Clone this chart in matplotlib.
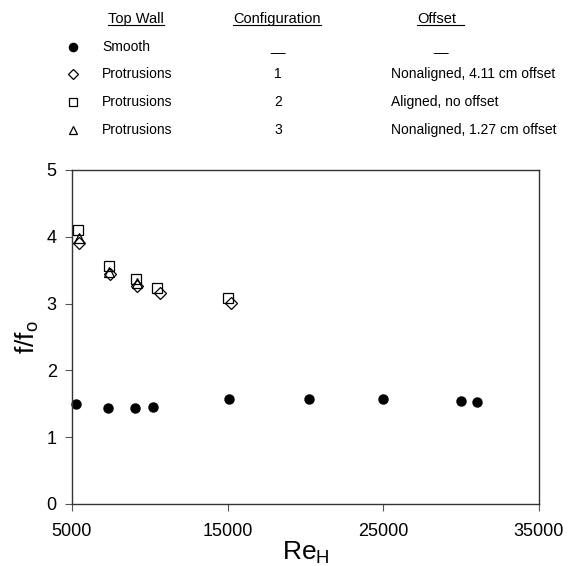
import matplotlib
matplotlib.use("Agg")
import matplotlib.pyplot as plt
from matplotlib.lines import Line2D

plt.rcParams['font.family'] = ['Liberation Sans', 'DejaVu Sans']

# Smooth top wall
re_smooth = [5250, 7300, 9050, 10200, 15100, 20200, 25000, 30000, 31000]
f_smooth = [1.50, 1.44, 1.43, 1.45, 1.57, 1.57, 1.57, 1.54, 1.53]

# Protrusions, configuration 1 (nonaligned, 4.11 cm offset)
re_conf1 = [5450, 7440, 9175, 10650, 15210]
f_conf1 = [3.91, 3.44, 3.26, 3.16, 3.01]

# Protrusions, configuration 2 (aligned, no offset)
re_conf2 = [5385, 7376, 9110, 10460, 15020]
f_conf2 = [4.10, 3.56, 3.37, 3.23, 3.08]

# Protrusions, configuration 3 (nonaligned, 1.27 cm offset)
re_conf3 = [5450, 7376, 9175]
f_conf3 = [3.98, 3.47, 3.31]

x_ticks = [5000, 15000, 25000, 35000]
y_ticks = [0, 1, 2, 3, 4, 5]

fig = plt.figure(figsize=(5.74, 5.66), dpi=100)
ax = fig.add_axes([72 / 574, 62 / 566, 467 / 574, 334 / 566])

open_style = dict(linestyle='none', markerfacecolor='none', markeredgecolor='black',
                  markeredgewidth=0.9, clip_on=False)
ax.plot(re_smooth, f_smooth, 'o', color='black', markersize=6.5, clip_on=False)
ax.plot(re_conf2, f_conf2, marker='s', markersize=7, **open_style)
ax.plot(re_conf3, f_conf3, marker='^', markersize=7, **open_style)
ax.plot(re_conf1, f_conf1, marker='D', markersize=6, **open_style)

ax.set_xlim(5000, 35000)
ax.set_ylim(0, 5)
ax.set_xticks(x_ticks)
ax.set_yticks(y_ticks)
ax.tick_params(direction='out', length=5, width=0.8, color='#555555',
               labelsize=13, pad=9)
ax.tick_params(axis='y', pad=6)
for sp in ax.spines.values():
    sp.set_color('#333333')
    sp.set_linewidth(1.0)

ax.set_xlabel('Re$_\\mathregular{H}$', fontsize=19, labelpad=-1)
ax.set_ylabel('f/f$_\\mathregular{o}$', fontsize=19, labelpad=4)

# Key table above the plot
fs = 10
row_y = [47, 74, 102, 130]


def fy(py):
    return 1 - py / 566


def fx(px):
    return px / 574


headers = [('Top Wall', 136, 'center'), ('Configuration', 277, 'center'),
           ('Offset', 417, 'left')]
head_texts = []
for label, px, ha in headers:
    t = fig.text(fx(px), fy(19), label, fontsize=fs + 0.5, ha=ha, va='center')
    head_texts.append(t)

markers = [dict(marker='o', markerfacecolor='black', markersize=6),
           dict(marker='D', markerfacecolor='none', markersize=5),
           dict(marker='s', markerfacecolor='none', markersize=6),
           dict(marker='^', markerfacecolor='none', markersize=6)]
walls = ['Smooth', 'Protrusions', 'Protrusions', 'Protrusions']
configs = ['__', '1', '2', '3']
offsets = ['__', 'Nonaligned, 4.11 cm offset', 'Aligned, no offset',
           'Nonaligned, 1.27 cm offset']

for i, py in enumerate(row_y):
    fig.add_artist(Line2D([fx(73)], [fy(py)], linestyle='none', color='black',
                          markeredgecolor='black', markeredgewidth=0.9,
                          transform=fig.transFigure, **markers[i]))
    fig.text(fx(102), fy(py), walls[i], fontsize=fs, ha='left', va='center')
    fig.text(fx(278), fy(py), configs[i], fontsize=fs, ha='center', va='center')
    if i == 0:
        fig.text(fx(441), fy(py), offsets[i], fontsize=fs, ha='center', va='center')
    else:
        fig.text(fx(391), fy(py), offsets[i], fontsize=fs, ha='left', va='center')

# underline the column headers
fig.canvas.draw()
renderer = fig.canvas.get_renderer()
inv = fig.transFigure.inverted()
for k, t in enumerate(head_texts):
    bb = t.get_window_extent(renderer)
    x0, y0 = inv.transform((bb.x0, bb.y0))
    x1, _ = inv.transform((bb.x1, bb.y0))
    if k == 2:
        x1 += fx(8)
    fig.add_artist(Line2D([x0, x1], [y0 + 0.002, y0 + 0.002], color='black',
                          linewidth=0.8, transform=fig.transFigure))

fig.savefig('out.png', dpi=100)
